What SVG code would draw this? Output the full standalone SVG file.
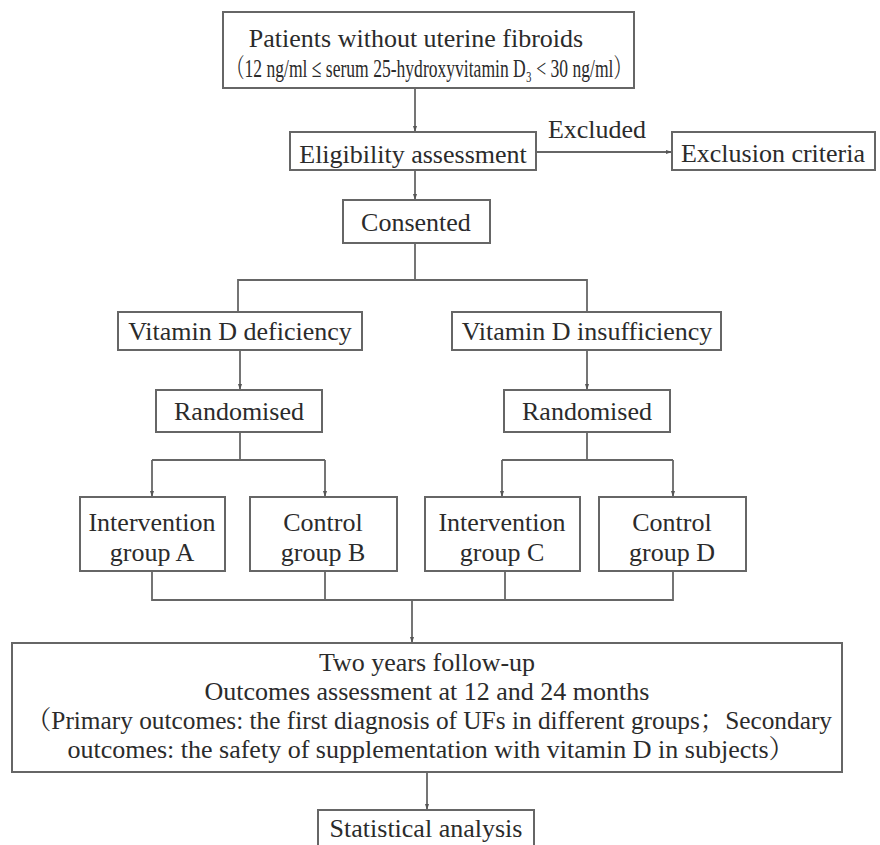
<svg xmlns="http://www.w3.org/2000/svg" width="880" height="845" viewBox="0 0 880 845">
<style>
.box{fill:#fff;stroke:#666;stroke-width:2}
.t{font-family:"Liberation Serif","Times New Roman","Noto Serif CJK SC","Noto Sans CJK SC",serif;font-size:26px;fill:#2b2b2b;text-anchor:middle}
.c{fill:none;stroke:#666;stroke-width:1.8}
</style>
<defs>
<marker id="ah" markerWidth="7" markerHeight="6" refX="6" refY="3" orient="auto" markerUnits="userSpaceOnUse">
<path d="M0,1 L6,3 L0,5 Z" fill="#555"/>
</marker>
</defs>
<rect width="880" height="845" fill="#fff"/>
<g id="connectors">
<line class="c" x1="415" y1="88" x2="415" y2="132" marker-end="url(#ah)"/>
<line class="c" x1="536" y1="152" x2="672" y2="152" marker-end="url(#ah)"/>
<line class="c" x1="415" y1="170" x2="415" y2="200" marker-end="url(#ah)"/>
<polyline class="c" points="415,243 415,280"/>
<polyline class="c" points="238,312 238,280 587,280 587,312"/>
<line class="c" x1="240" y1="350" x2="240" y2="390" marker-end="url(#ah)"/>
<line class="c" x1="587" y1="350" x2="587" y2="390" marker-end="url(#ah)"/>
<polyline class="c" points="240,432 240,460"/>
<line class="c" x1="152" y1="460" x2="325" y2="460"/>
<line class="c" x1="152" y1="460" x2="152" y2="497" marker-end="url(#ah)"/>
<line class="c" x1="325" y1="460" x2="325" y2="497" marker-end="url(#ah)"/>
<polyline class="c" points="587,432 587,460"/>
<line class="c" x1="502" y1="460" x2="673" y2="460"/>
<line class="c" x1="502" y1="460" x2="502" y2="497" marker-end="url(#ah)"/>
<line class="c" x1="673" y1="460" x2="673" y2="497" marker-end="url(#ah)"/>
<polyline class="c" points="152,571 152,600 673,600 673,571"/>
<line class="c" x1="325" y1="571" x2="325" y2="600"/>
<line class="c" x1="505" y1="571" x2="505" y2="600"/>
<line class="c" x1="412" y1="600" x2="412" y2="643" marker-end="url(#ah)"/>
<line class="c" x1="427" y1="772" x2="427" y2="810" marker-end="url(#ah)"/>
</g>
<g id="n-patients">
<rect class="box" x="223" y="12" width="411" height="76"/>
<text class="t" x="416" y="47">Patients without uterine fibroids</text>
<text class="t" x="429" y="77" font-size="21" textLength="404" lengthAdjust="spacingAndGlyphs">（12 ng/ml ≤ serum 25-hydroxyvitamin D₃ &lt; 30 ng/ml）</text>
</g>
<g id="n-eligibility">
<rect class="box" x="290" y="132" width="246" height="38"/>
<text class="t" x="413" y="163">Eligibility assessment</text>
</g>
<text class="t" x="597" y="138">Excluded</text>
<g id="n-exclusion">
<rect class="box" x="672" y="132" width="203" height="38"/>
<text class="t" x="773" y="162">Exclusion criteria</text>
</g>
<g id="n-consented">
<rect class="box" x="343" y="200" width="147" height="43"/>
<text class="t" x="416" y="231">Consented</text>
</g>
<g id="n-deficiency">
<rect class="box" x="118" y="312" width="244" height="38"/>
<text class="t" x="240" y="340">Vitamin D deficiency</text>
</g>
<g id="n-insufficiency">
<rect class="box" x="452" y="312" width="269" height="38"/>
<text class="t" x="587" y="340">Vitamin D insufficiency</text>
</g>
<g id="n-rand-left">
<rect class="box" x="156" y="390" width="166" height="42"/>
<text class="t" x="239" y="420">Randomised</text>
</g>
<g id="n-rand-right">
<rect class="box" x="504" y="390" width="166" height="42"/>
<text class="t" x="587" y="420">Randomised</text>
</g>
<g id="n-group-a">
<rect class="box" x="80" y="497" width="145" height="74"/>
<text class="t" x="152" y="531">Intervention</text>
<text class="t" x="152" y="561">group A</text>
</g>
<g id="n-group-b">
<rect class="box" x="250" y="497" width="147" height="74"/>
<text class="t" x="323" y="531">Control</text>
<text class="t" x="323" y="561">group B</text>
</g>
<g id="n-group-c">
<rect class="box" x="425" y="497" width="155" height="74"/>
<text class="t" x="502" y="531">Intervention</text>
<text class="t" x="502" y="561">group C</text>
</g>
<g id="n-group-d">
<rect class="box" x="599" y="497" width="147" height="74"/>
<text class="t" x="672" y="531">Control</text>
<text class="t" x="672" y="561">group D</text>
</g>
<g id="n-followup">
<rect class="box" x="12" y="643" width="830" height="129"/>
<text class="t" x="427" y="671">Two years follow-up</text>
<text class="t" x="427" y="700">Outcomes assessment at 12 and 24 months</text>
<text class="t" x="429" y="729" textLength="806" lengthAdjust="spacingAndGlyphs">（Primary outcomes: the first diagnosis of UFs in different groups；Secondary</text>
<text class="t" x="431" y="758">outcomes: the safety of supplementation with vitamin D in subjects）</text>
</g>
<g id="n-stats">
<rect class="box" x="318" y="810" width="216" height="45"/>
<text class="t" x="426" y="837">Statistical analysis</text>
</g>
</svg>
